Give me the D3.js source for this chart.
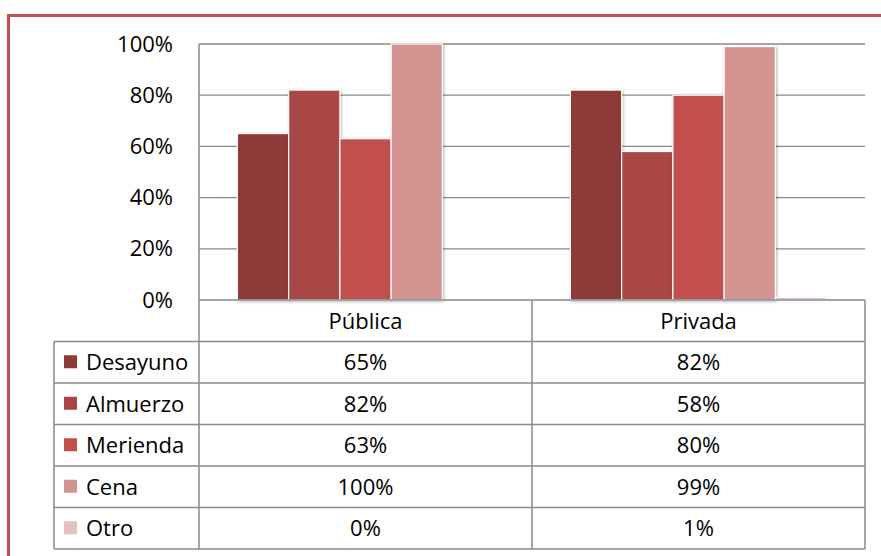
<!DOCTYPE html>
<html>
<head>
<meta charset="utf-8">
<script src="https://cdn.jsdelivr.net/npm/d3@7"></script>
<style>
  html, body { margin: 0; padding: 0; background: #fff; }
  svg { display: block; font-family: 'Open Sans', sans-serif; }
</style>
</head>
<body>
<svg id="chart" width="881" height="556"></svg>
<script>
// Data
const categories = ['Pública', 'Privada'];
const series = ['Desayuno', 'Almuerzo', 'Merienda', 'Cena', 'Otro'];
const publica = [0.65, 0.82, 0.63, 1.00, 0.00];
const privada = [0.82, 0.58, 0.80, 0.99, 0.01];
const seriesColors = ['#8d3a38', '#a94644', '#c0504d', '#d39391', '#e6c0bf'];
const yTicks = [0, 0.2, 0.4, 0.6, 0.8, 1.0];

const valuesByCat = { 'Pública': publica, 'Privada': privada };
const pct = d3.format('.0%');

const svg = d3.select('#chart');
const fontSize = 22;
const gridColor = '#888';

// Frame
svg.append('rect')
  .attr('x', 8.5).attr('y', 15.5)
  .attr('width', 1000).attr('height', 1000)
  .attr('fill', 'none')
  .attr('stroke', '#c0504d')
  .attr('stroke-width', 3);

// Shadow for bars
const defs = svg.append('defs');
defs.append('filter')
  .attr('id', 'shadow')
  .attr('x', '-20%').attr('y', '-20%').attr('width', '140%').attr('height', '140%')
  .append('feDropShadow')
  .attr('dx', 1).attr('dy', 1)
  .attr('stdDeviation', 1.5)
  .attr('flood-color', '#000')
  .attr('flood-opacity', 0.3);

// Scales
const x = d3.scaleBand()
  .domain(categories)
  .range([199, 865])
  .padding(0);

const xs = d3.scaleBand()
  .domain(series)
  .range([0, x.bandwidth()])
  .paddingInner(0)
  .paddingOuter(0.75);

const y = d3.scaleLinear()
  .domain([0, 1])
  .range([300, 44]);

const color = d3.scaleOrdinal().domain(series).range(seriesColors);

const rows = d3.scaleBand()
  .domain(['header', ...series])
  .range([300, 549]);

// Gridlines
svg.append('g')
  .selectAll('line')
  .data(yTicks.filter((d) => d > 0))
  .enter()
  .append('line')
  .attr('x1', x.range()[0]).attr('x2', x.range()[1])
  .attr('y1', (d) => y(d)).attr('y2', (d) => y(d))
  .attr('stroke', gridColor)
  .attr('stroke-width', 1.3);

// Y axis labels
const yAxis = svg.append('g')
  .attr('transform', `translate(${x.range()[0]},0)`)
  .call(d3.axisLeft(y).tickValues(yTicks).tickFormat(pct).tickSize(0).tickPadding(26));
yAxis.select('.domain').remove();
yAxis.selectAll('text')
  .attr('font-family', "'Open Sans', sans-serif")
  .attr('font-size', fontSize)
  .attr('fill', '#000');

// Bars
const groups = svg.append('g')
  .selectAll('g')
  .data(categories)
  .enter()
  .append('g')
  .attr('transform', (c) => `translate(${x(c)},0)`);

groups.selectAll('rect')
  .data((c) => series.map((s, i) => ({ s, v: valuesByCat[c][i] })))
  .enter()
  .append('rect')
  .attr('x', (d) => xs(d.s))
  .attr('width', xs.bandwidth())
  .attr('y', (d) => y(d.v))
  .attr('height', (d) => y(0) - y(d.v))
  .attr('fill', (d) => color(d.s))
  .attr('stroke', '#fff')
  .attr('stroke-width', 1.2)
  .attr('filter', 'url(#shadow)');

// Data table
const table = svg.append('g').attr('stroke', gridColor).attr('stroke-width', 1.5);
const tableLeft = 54;
const right = x.range()[1];

// horizontal lines
table.append('line')
  .attr('x1', x.range()[0]).attr('x2', right)
  .attr('y1', y(0)).attr('y2', y(0));
series.forEach((s) => {
  table.append('line')
    .attr('x1', tableLeft).attr('x2', right)
    .attr('y1', rows(s)).attr('y2', rows(s));
});
table.append('line')
  .attr('x1', tableLeft).attr('x2', right)
  .attr('y1', rows.range()[1]).attr('y2', rows.range()[1]);

// vertical lines
table.append('line')
  .attr('x1', tableLeft).attr('x2', tableLeft)
  .attr('y1', rows(series[0])).attr('y2', rows.range()[1]);
table.append('line')
  .attr('x1', x.range()[0]).attr('x2', x.range()[0])
  .attr('y1', y(1)).attr('y2', rows.range()[1]);
categories.forEach((c) => {
  table.append('line')
    .attr('x1', x(c) + x.bandwidth()).attr('x2', x(c) + x.bandwidth())
    .attr('y1', y(0)).attr('y2', rows.range()[1]);
});

const textG = svg.append('g')
  .attr('font-size', fontSize)
  .attr('fill', '#000');

// header
textG.selectAll('.head')
  .data(categories)
  .enter()
  .append('text')
  .attr('class', 'head')
  .attr('x', (c) => x(c) + x.bandwidth() / 2)
  .attr('y', rows('header') + rows.bandwidth() / 2)
  .attr('dy', '0.36em')
  .attr('text-anchor', 'middle')
  .text((c) => c);

// legend keys + labels
series.forEach((s, i) => {
  const cy = rows(s) + rows.bandwidth() / 2;
  svg.append('rect')
    .attr('x', 64).attr('y', cy - 7)
    .attr('width', 13).attr('height', 13)
    .attr('fill', color(s));
  textG.append('text')
    .attr('x', 86)
    .attr('y', cy)
    .attr('dy', '0.36em')
    .text(s);
  categories.forEach((c) => {
    textG.append('text')
      .attr('x', x(c) + x.bandwidth() / 2)
      .attr('y', cy)
      .attr('dy', '0.36em')
      .attr('text-anchor', 'middle')
      .text(pct(valuesByCat[c][i]));
  });
});
</script>
</body>
</html>
